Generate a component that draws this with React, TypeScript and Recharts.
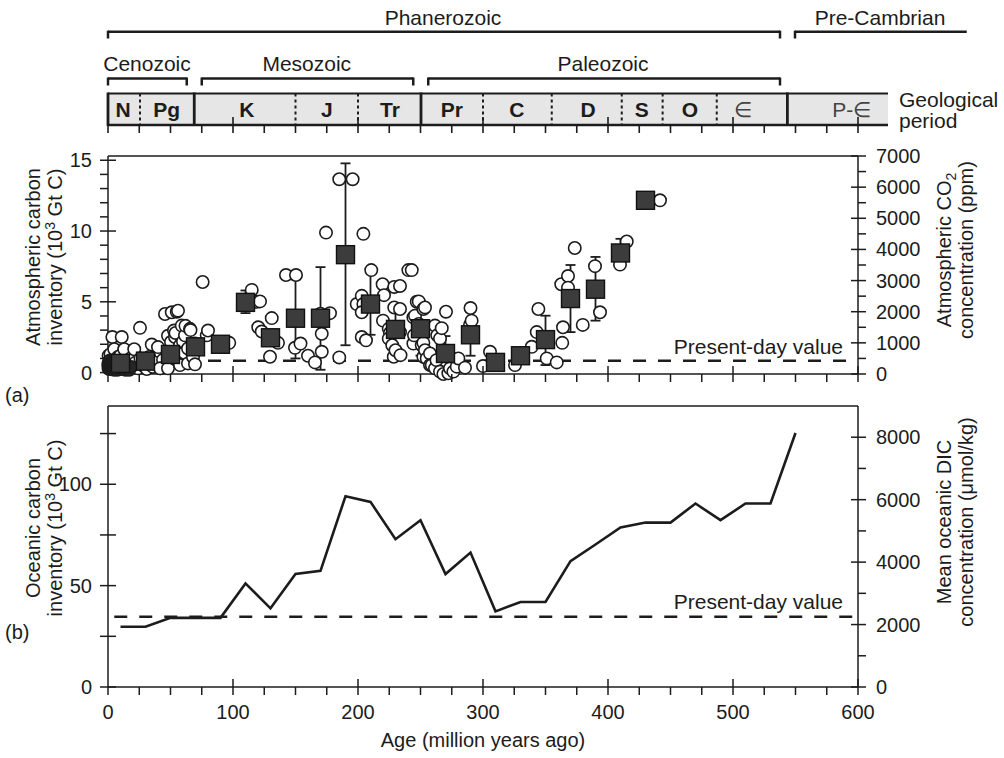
import React from 'react';
import {
  ComposedChart,
  Scatter,
  Line,
  XAxis,
  YAxis,
  ReferenceLine,
  ReferenceArea,
  ReferenceDot,
  ErrorBar,
} from 'recharts';

const FONT = '"Liberation Sans", Arial, Helvetica, sans-serif';
const INK = '#1c1c1c';

// ---------------- ticks ----------------
const ageTicks = [0, 25, 50, 75, 100, 125, 150, 175, 200, 225, 250, 275, 300, 325, 350, 375, 400, 425, 450, 475, 500, 525, 550, 575, 600];
const ageLabels = [0, 100, 200, 300, 400, 500, 600];
const atmTicks = [0, 1, 2, 3, 4, 5, 6, 7, 8, 9, 10, 11, 12, 13, 14, 15];
const atmLabels = [0, 5, 10, 15];
const co2Ticks = [0, 500, 1000, 1500, 2000, 2500, 3000, 3500, 4000, 4500, 5000, 5500, 6000, 6500, 7000];
const co2Labels = [0, 1000, 2000, 3000, 4000, 5000, 6000, 7000];
const oceanTicks = [0, 25, 50, 75, 100, 125];
const oceanLabels = [0, 50, 100];
const dicTicks = [0, 1000, 2000, 3000, 4000, 5000, 6000, 7000, 8000];
const dicLabels = [0, 2000, 4000, 6000, 8000];

// ---------------- geological time scale ----------------
const periodNames = ['N', 'Pg', 'K', 'J', 'Tr', 'Pr', 'C', 'D', 'S', 'O', '\u2208', 'P-\u2208'];
const periodLabelAt = [12, 47, 111, 175, 225.6, 275, 327, 384, 427, 465.6, 508, 595];
const periodBold = [true, true, true, true, true, true, true, true, true, true, false, false];
const barEnd = 624;
const solidBounds = [0, 69, 250.4, 543.5];
const dottedBounds = [25.6, 150, 200, 300, 355, 411, 443.7, 487];
const majorAges = [100, 200, 300, 400, 500, 600];
const eraNames = ['Cenozoic', 'Mesozoic', 'Paleozoic'];
const eraFrom = [0, 75, 256.2];
const eraTo = [63, 244.2, 537.6];
const eraLabelAt = [31.2, 159, 396];
const eonNames = ['Phanerozoic', 'Pre-Cambrian'];
const eonFrom = [0, 549.6];
const eonTo = [537.6, 687];
const eonLabelAt = [268, 617.6];
const eonClosed = [true, false];

// ---------------- panel (a): atmospheric carbon ----------------
const binAge = [10, 30, 50, 70, 90, 110, 130, 150, 170, 190, 210, 230, 250, 270, 290, 310, 330, 350, 370, 390, 410, 430];
const binCarbon = [0.65, 0.81, 1.28, 1.82, 2.0, 4.96, 2.46, 3.84, 3.84, 8.33, 4.84, 3.05, 3.1, 1.35, 2.67, 0.72, 1.19, 2.33, 5.23, 5.89, 8.45, 12.17];
const binLow: (number | null)[] = [null, null, null, null, null, 4.2, null, 1.0, 0.2, 1.93, 2.67, 1.6, 1.2, 0.8, 1.19, null, null, 0.53, 2.86, 3.67, 7.52, null];
const binHigh: (number | null)[] = [null, null, null, null, null, 5.8, null, 6.58, 7.45, 14.78, 7.24, 4.6, 5.1, 2.58, 4.3, null, null, 4.02, 7.6, 8.17, 9.45, null];

// dense Neogene proxy estimates (0-20 Ma), overlapping into a dark mass
const neogeneObs: [number, number][] = [
  [0.2, 0.55], [0.4, 0.3], [0.6, 0.75], [0.8, 0.45], [1.0, 0.25], [1.2, 0.6], [1.5, 0.85], [1.8, 0.35],
  [2.1, 0.5], [2.4, 0.7], [2.7, 0.25], [3.0, 0.45], [3.3, 0.6], [3.6, 0.3], [4.0, 0.5], [4.4, 0.75],
  [4.8, 0.2], [5.2, 0.4], [5.6, 0.6], [6.0, 0.3], [6.5, 0.7], [7.0, 0.45], [7.5, 0.2], [8.0, 0.55],
  [8.5, 0.35], [9.0, 0.8], [9.5, 0.25], [10.0, 0.4], [11.0, 0.3], [12.0, 0.55], [13.0, 0.3], [14.0, 0.2],
  [15.0, 0.45], [16.0, 0.3], [17.0, 0.2], [18.5, 0.4],
];

const proxyObs: [number, number][] = [
  [0.5, 1.2], [2, 1.3], [3.5, 2.51], [5, 1.65], [8, 1.1], [10, 1.2], [11, 2.51],
  [13, 1.65], [18, 1.0], [21, 1.65], [22, 0.7], [24, 0.3], [25.6, 3.16], [26, 1.0], [28, 0.5], [31, 0.25], [33, 1.1], [35, 1.98], [36, 0.4],
  [38, 0.7], [40, 1.8], [42, 0.3], [44, 0.9],
  [41.6, 0.3], [45.6, 4.14], [48, 0.3], [48, 2.6], [49, 1.4], [50.4, 2.16], [51, 4.26], [52.8, 2.97], [53, 1.0],
  [53.6, 2.51], [54, 2.8], [55, 4.3], [56, 4.37], [57.6, 1.93], [57.6, 0.53], [59, 3.32], [60, 2.2], [61, 1.4],
  [61.6, 2.63], [62, 3.3], [64, 1.7], [64, 0.65], [65.6, 3.09], [66, 3.0], [68, 1.1], [69.6, 2.05], [69.6, 0.58],
  [75.7, 6.4], [79, 2.63], [80, 2.97], [97, 2.1],
  [115, 5.84], [119, 5.0], [120.2, 3.2], [121.6, 5.03], [123, 2.9], [129.6, 1.12], [131, 3.85], [136, 2.1],
  [142.4, 6.89], [149.6, 1.75], [150.4, 6.89], [154, 2.05], [160, 1.19], [165.6, 0.72], [170, 4.16], [171, 2.74],
  [171, 1.47], [174.4, 9.89], [177.6, 4.2], [185, 13.66], [185, 1.07], [195.7, 13.66], [199, 4.84],
  [203, 5.42], [204.3, 4.84], [203, 4.26], [204.3, 9.8], [203, 2.51], [206.4, 2.28], [210.6, 7.24], [219.7, 6.24],
  [220.8, 5.47], [220, 3.67], [224.6, 3.09], [225.6, 2.8], [224.6, 2.4], [227.4, 1.93], [228.6, 1.12], [229, 6.05],
  [229, 4.6], [230, 1.58], [233.6, 6.12], [233.6, 4.49], [233.6, 2.86], [234, 1.23], [240.3, 7.24], [243, 7.24],
  [244.3, 3.9], [244.3, 2.05], [244.8, 2.63], [245.6, 4.02], [247, 5.0], [248.6, 5.03], [248.6, 3.44], [251, 1.93],
  [252.3, 4.49], [252.3, 2.1], [252.3, 1.12], [253.6, 4.6], [253.6, 1.58], [255, 1.0], [257.6, 1.35], [257.6, 0.53],
  [259, 0.53], [261.6, 3.32], [261.6, 0.3], [262.8, 0.88], [263.4, 2.63], [265.6, 2.4], [265.6, 0.07], [267, 3.14],
  [268.3, -0.1], [270.4, 4.3], [272.3, -0.05], [273.6, 0.3], [276.3, 0.07], [279, 0.42], [280.3, 1.0], [285.6, 0.35],
  [289.6, 3.37], [290, 4.56], [290.9, 3.67],
  [300, 0.46], [305.6, 1.47], [325.6, 0.53], [339, 1.82], [343, 2.86], [344.3, 4.49], [351, 1.0], [359, 0.72],
  [362.6, 6.24], [363.4, 2.1], [364, 3.2], [368, 6.82], [368, 6.0], [373.4, 8.8], [379.8, 3.37], [389.6, 7.52],
  [393.6, 4.26], [409.6, 7.63], [415, 9.26], [441.6, 12.17],
];
const presentAtm = 0.84;

// ---------------- panel (b): oceanic carbon ----------------
const oceanAge = [10, 30, 50, 70, 90, 110, 130, 150, 170, 190, 210, 230, 250, 270, 290, 310, 330, 350, 370, 390, 410, 430, 450, 470, 490, 510, 530, 550];
const oceanCarbon = [29.7, 29.7, 34.1, 34.1, 34.1, 51.1, 38.8, 55.7, 57.3, 94.1, 91.3, 72.9, 82.3, 55.7, 66.3, 37.3, 41.9, 41.9, 62.1, 70.3, 78.7, 81.1, 81.1, 90.5, 82.3, 90.5, 90.5, 125.3];
const presentOcean = 34.6;

// ---------------- layout constants for the time-scale header ----------------
const BAR_TOP = 93.5;
const BAR_BOT = 125;
const EON_Y = 31.7;
const EON_TICK = 38.5;
const ERA_Y = 78.5;
const ERA_TICK = 85.5;
const EON_TXT = 18;
const ERA_TXT = 64;
const PERIOD_TXT = 109.5;

// ---------------- derived tables ----------------
const proxyData = proxyObs.map(([age, carbon]) => ({ age, carbon }));
const neogeneData = neogeneObs.map(([age, carbon]) => ({ age, carbon }));
const binData = binAge.map((age, i) => {
  const lo = binLow[i];
  const hi = binHigh[i];
  return {
    age,
    carbon: binCarbon[i],
    err: lo == null || hi == null ? undefined : [binCarbon[i] - lo, hi - binCarbon[i]],
  };
});
const oceanData = oceanAge.map((age, i) => ({ age, ocean: oceanCarbon[i] }));
const headerTickData = ageTicks.map((a) => ({ age: a, row: BAR_BOT, major: majorAges.includes(a) }));

// ---------------- helpers ----------------
const ATM_MAX = 15.3;
const OCEAN_MAX = 138.6;

type TickOpts = {
  side: 'left' | 'right' | 'bottom';
  labels: number[];
  crossing: number[];
  size: number;
  margin: number;
  inner?: number;
};

const makeTick = (o: TickOpts) => (props: any) => {
  const { x, y, payload } = props;
  const v = payload.value as number;
  const inLen = o.crossing.includes(v) ? o.inner ?? 8 : 0;
  const show = o.labels.includes(v);
  const off = o.size + o.margin;
  const txt = { fontSize: 20, fontFamily: FONT, fill: INK } as const;
  if (o.side === 'left') {
    const ax = x + off;
    return (
      <g>
        <line x1={ax - o.size} y1={y} x2={ax + inLen} y2={y} stroke={INK} strokeWidth={1.5} />
        {show && (
          <text x={x} y={y} dy={7} textAnchor="end" {...txt}>
            {v}
          </text>
        )}
      </g>
    );
  }
  if (o.side === 'right') {
    const ax = x - off;
    return (
      <g>
        <line x1={ax - inLen} y1={y} x2={ax + o.size} y2={y} stroke={INK} strokeWidth={1.5} />
        {show && (
          <text x={x} y={y} dy={7} textAnchor="start" {...txt}>
            {v}
          </text>
        )}
      </g>
    );
  }
  const ay = y - off;
  return (
    <g>
      <line x1={x} y1={ay - inLen} x2={x} y2={ay + o.size} stroke={INK} strokeWidth={1.5} />
      {show && (
        <text x={x} y={ay + 32} textAnchor="middle" {...txt}>
          {v}
        </text>
      )}
    </g>
  );
};

function RotatedTitle({ cx, cy, lines }: { cx: number; cy: number; lines: React.ReactNode[] }) {
  return (
    <g>
      {lines.map((ln, i) => {
        const x = cx + i * 22;
        return (
          <text
            key={i}
            x={x}
            y={cy}
            dy={7}
            textAnchor="middle"
            transform={`rotate(-90 ${x} ${cy})`}
            fontSize={20}
            fontFamily={FONT}
            fill={INK}
          >
            {ln}
          </text>
        );
      })}
    </g>
  );
}

const inventoryLine = (
  <>
    inventory (10
    <tspan dy={-7} fontSize={14}>
      3
    </tspan>
    <tspan dy={7}> Gt C)</tspan>
  </>
);

const openCircle = (p: any) => <circle cx={p.cx} cy={p.cy} r={6.2} fill="#ffffff" stroke={INK} strokeWidth={1.6} />;
const denseCircle = (p: any) => <circle cx={p.cx} cy={p.cy} r={6.2} fill="#262626" stroke={INK} strokeWidth={1.6} />;
const filledSquare = (p: any) => (
  <rect x={p.cx - 9} y={p.cy - 9} width={18} height={18} fill="#3c3c3c" stroke="#111111" strokeWidth={1.4} />
);
const scaleTick = (p: any) => {
  const major = p.payload && p.payload.major;
  return <line x1={p.cx} x2={p.cx} y1={p.cy - (major ? 8 : 0)} y2={p.cy + 8} stroke={INK} strokeWidth={1.6} />;
};

const presentLabel = (dyUp: number) => (p: any) => {
  const vb = p.viewBox || {};
  const right = (vb.x ?? 0) + (vb.width ?? 0);
  return (
    <text x={right - 15} y={(vb.y ?? 0) - dyUp} textAnchor="end" fontSize={21} fontFamily={FONT} fill={INK}>
      Present-day value
    </text>
  );
};

// ---------------- header ----------------
function Header() {
  const textStyle = { fontSize: 21, fontFamily: FONT, fill: INK };
  return (
    <ComposedChart width={1004} height={140} margin={{ top: 0, right: 6, bottom: 0, left: 108 }}>
      <XAxis type="number" dataKey="age" domain={[0, 712]} hide />
      <YAxis type="number" hide domain={[0, 140]} reversed />
      <ReferenceArea x1={0} x2={barEnd} y1={BAR_TOP} y2={BAR_BOT} fill="#e6e6e6" fillOpacity={1} stroke="none" ifOverflow="visible" />
      <Scatter data={headerTickData} dataKey="row" shape={scaleTick} isAnimationActive={false} />
      <ReferenceLine segment={[{ x: 0, y: BAR_TOP }, { x: barEnd, y: BAR_TOP }]} stroke={INK} strokeWidth={2} ifOverflow="visible" />
      <ReferenceLine segment={[{ x: 0, y: BAR_BOT }, { x: barEnd, y: BAR_BOT }]} stroke={INK} strokeWidth={2.5} ifOverflow="visible" />
      {solidBounds.map((b) => (
        <ReferenceLine key={'s' + b} segment={[{ x: b, y: BAR_TOP - 1 }, { x: b, y: BAR_BOT + 1 }]} stroke={INK} strokeWidth={2.8} ifOverflow="visible" />
      ))}
      {dottedBounds.map((b) => (
        <ReferenceLine key={'d' + b} segment={[{ x: b, y: BAR_TOP }, { x: b, y: BAR_BOT }]} stroke={INK} strokeWidth={2} strokeDasharray="3 3" ifOverflow="visible" />
      ))}
      {periodNames.map((n, i) => (
        <ReferenceDot
          key={'p' + n}
          x={periodLabelAt[i]}
          y={PERIOD_TXT}
          r={1}
          fill="none"
          stroke="none"
          ifOverflow="visible"
          label={{ value: n, position: 'center', ...textStyle, fontWeight: periodBold[i] ? 700 : 400, fill: periodBold[i] ? INK : '#444' }}
        />
      ))}
      {eraNames.map((n, i) => (
        <React.Fragment key={n}>
          <ReferenceLine segment={[{ x: eraFrom[i], y: ERA_Y }, { x: eraTo[i], y: ERA_Y }]} stroke={INK} strokeWidth={2.5} ifOverflow="visible" />
          <ReferenceLine segment={[{ x: eraFrom[i], y: ERA_Y - 1 }, { x: eraFrom[i], y: ERA_TICK }]} stroke={INK} strokeWidth={2.5} ifOverflow="visible" />
          <ReferenceLine segment={[{ x: eraTo[i], y: ERA_Y - 1 }, { x: eraTo[i], y: ERA_TICK }]} stroke={INK} strokeWidth={2.5} ifOverflow="visible" />
          <ReferenceDot x={eraLabelAt[i]} y={ERA_TXT} r={1} fill="none" stroke="none" ifOverflow="visible" label={{ value: n, position: 'center', ...textStyle }} />
        </React.Fragment>
      ))}
      {eonNames.map((n, i) => (
        <React.Fragment key={n}>
          <ReferenceLine segment={[{ x: eonFrom[i], y: EON_Y }, { x: eonTo[i], y: EON_Y }]} stroke={INK} strokeWidth={2.5} ifOverflow="visible" />
          <ReferenceLine segment={[{ x: eonFrom[i], y: EON_Y - 1 }, { x: eonFrom[i], y: EON_TICK }]} stroke={INK} strokeWidth={2.5} ifOverflow="visible" />
          {eonClosed[i] && (
            <ReferenceLine segment={[{ x: eonTo[i], y: EON_Y - 1 }, { x: eonTo[i], y: EON_TICK }]} stroke={INK} strokeWidth={2.5} ifOverflow="visible" />
          )}
          <ReferenceDot x={eonLabelAt[i]} y={EON_TXT} r={1} fill="none" stroke="none" ifOverflow="visible" label={{ value: n, position: 'center', ...textStyle }} />
        </React.Fragment>
      ))}
      <ReferenceDot x={632} y={100} r={1} fill="none" stroke="none" ifOverflow="visible" label={{ value: 'Geological', position: 'right', offset: 0, ...textStyle }} />
      <ReferenceDot x={632} y={121} r={1} fill="none" stroke="none" ifOverflow="visible" label={{ value: 'period', position: 'right', offset: 0, ...textStyle }} />
    </ComposedChart>
  );
}

// ---------------- panel a ----------------
function PanelA() {
  return (
    <ComposedChart width={1004} height={270} margin={{ top: 16, right: 0, bottom: 0, left: 0 }}>
      <XAxis
        type="number"
        dataKey="age"
        domain={[0, 600]}
        ticks={ageTicks}
        interval={0}
        height={36}
        tickSize={8}
        tickMargin={4}
        tickLine={false}
        axisLine={{ stroke: INK, strokeWidth: 1.5 }}
        tick={makeTick({ side: 'bottom', labels: [], crossing: majorAges, size: 8, margin: 4 })}
      />
      <YAxis
        yAxisId="l"
        type="number"
        domain={[0, ATM_MAX]}
        ticks={atmTicks}
        interval={0}
        width={108}
        tickSize={8}
        tickMargin={8}
        tickLine={false}
        axisLine={{ stroke: INK, strokeWidth: 1.5 }}
        tick={makeTick({ side: 'left', labels: atmLabels, crossing: atmLabels, size: 8, margin: 8 })}
        label={{
          content: () => (
            <g>
              <RotatedTitle cx={33} cy={117} lines={['Atmospheric carbon', inventoryLine]} />
              <text x={5} y={262} fontSize={20} fontFamily={FONT} fill={INK}>
                (a)
              </text>
            </g>
          ),
        }}
      />
      <YAxis
        yAxisId="r"
        orientation="right"
        type="number"
        domain={[0, 7000]}
        allowDataOverflow
        ticks={co2Ticks}
        interval={0}
        width={146}
        tickSize={8}
        tickMargin={10}
        tickLine={false}
        axisLine={{ stroke: INK, strokeWidth: 1.5 }}
        tick={makeTick({ side: 'right', labels: co2Labels, crossing: co2Labels, size: 8, margin: 10, inner: 7 })}
        label={{
          content: () => (
            <RotatedTitle
              cx={944}
              cy={110}
              lines={[
                <>
                  Atmospheric CO
                  <tspan dy={5} fontSize={14}>
                    2
                  </tspan>
                </>,
                'concentration (ppm)',
              ]}
            />
          ),
        }}
      />
      <ReferenceLine yAxisId="l" y={ATM_MAX} stroke={INK} strokeWidth={1.5} />
      <ReferenceLine
        yAxisId="l"
        y={presentAtm}
        stroke={INK}
        strokeWidth={2.5}
        strokeDasharray="13 12"
        label={{ content: presentLabel(7) }}
      />
      <Scatter yAxisId="l" data={proxyData} dataKey="carbon" shape={openCircle} isAnimationActive={false} />
      <Scatter yAxisId="l" data={neogeneData} dataKey="carbon" shape={denseCircle} isAnimationActive={false} />
      <Scatter yAxisId="l" data={binData} dataKey="carbon" shape={filledSquare} isAnimationActive={false}>
        <ErrorBar dataKey="err" direction="y" width={5} stroke={INK} strokeWidth={1.8} />
      </Scatter>
    </ComposedChart>
  );
}

// ---------------- panel b ----------------
function PanelB() {
  return (
    <ComposedChart width={1004} height={368} margin={{ top: 16, right: 0, bottom: 0, left: 0 }}>
      <XAxis
        type="number"
        dataKey="age"
        domain={[0, 600]}
        ticks={ageTicks}
        interval={0}
        height={71}
        tickSize={8}
        tickMargin={4}
        tickLine={false}
        axisLine={{ stroke: INK, strokeWidth: 1.5 }}
        tick={makeTick({ side: 'bottom', labels: ageLabels, crossing: majorAges, size: 8, margin: 4 })}
        label={{ value: 'Age (million years ago)', position: 'insideBottom', offset: 11, fontSize: 20, fontFamily: FONT, fill: INK }}
      />
      <YAxis
        yAxisId="l"
        type="number"
        domain={[0, OCEAN_MAX]}
        ticks={oceanTicks}
        interval={0}
        width={108}
        tickSize={8}
        tickMargin={8}
        tickLine={false}
        axisLine={{ stroke: INK, strokeWidth: 1.5 }}
        tick={makeTick({ side: 'left', labels: oceanLabels, crossing: oceanTicks, size: 8, margin: 8 })}
        label={{
          content: () => (
            <g>
              <RotatedTitle cx={33} cy={138} lines={['Oceanic carbon', inventoryLine]} />
              <text x={5} y={249} fontSize={20} fontFamily={FONT} fill={INK}>
                (b)
              </text>
            </g>
          ),
        }}
      />
      <YAxis
        yAxisId="r"
        orientation="right"
        type="number"
        domain={[0, 9000]}
        allowDataOverflow
        ticks={dicTicks}
        interval={0}
        width={146}
        tickSize={8}
        tickMargin={10}
        tickLine={false}
        axisLine={{ stroke: INK, strokeWidth: 1.5 }}
        tick={makeTick({ side: 'right', labels: dicLabels, crossing: dicLabels, size: 8, margin: 10, inner: 7 })}
        label={{
          content: () => (
            <RotatedTitle cx={944} cy={132} lines={['Mean oceanic DIC', 'concentration (\u03BCmol/kg)']} />
          ),
        }}
      />
      <ReferenceLine yAxisId="l" y={OCEAN_MAX} stroke={INK} strokeWidth={1.5} />
      <ReferenceLine
        yAxisId="l"
        segment={[{ x: 5, y: presentOcean }, { x: 600, y: presentOcean }]}
        stroke={INK}
        strokeWidth={2.5}
        strokeDasharray="13 12"
        label={{ content: presentLabel(8) }}
      />
      <Line
        yAxisId="l"
        data={oceanData}
        dataKey="ocean"
        type="linear"
        stroke={INK}
        strokeWidth={2.6}
        dot={false}
        activeDot={false}
        isAnimationActive={false}
      />
    </ComposedChart>
  );
}

export default function App() {
  return (
    <div style={{ position: 'absolute', left: 0, top: 0, width: 1004, height: 758, background: '#ffffff', fontFamily: FONT }}>
      <div style={{ position: 'absolute', left: 0, top: 140, zIndex: 1 }}>
        <PanelA />
      </div>
      <div style={{ position: 'absolute', left: 0, top: 390, zIndex: 1 }}>
        <PanelB />
      </div>
      <div style={{ position: 'absolute', left: 0, top: 0, zIndex: 3 }}>
        <Header />
      </div>
    </div>
  );
}
